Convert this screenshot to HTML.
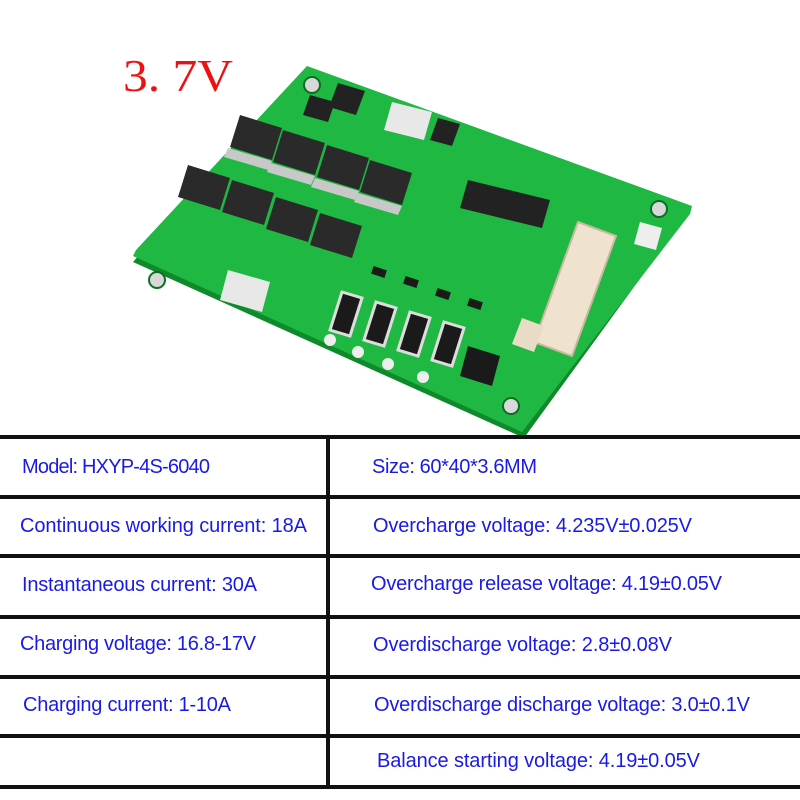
<!DOCTYPE html>
<html><head><meta charset="utf-8"><style>
html,body{margin:0;padding:0;background:#fff;}
svg{display:block}
</style></head><body>
<svg width="800" height="800" viewBox="0 0 800 800" xmlns="http://www.w3.org/2000/svg">
<rect width="800" height="800" fill="#fff"/>
<text x="123" y="91" font-family="Liberation Serif, serif" font-size="46" fill="#ee1111" textLength="110" lengthAdjust="spacingAndGlyphs">3. 7V</text>
<polygon points="307,68 690,210 524,438 133,262" fill="#0f8a2a"/>
<polygon points="307,66 692,206 690,214 522,432 133,256 136,250" fill="#1fb843"/>
<g fill="#d8d8d8" stroke="#0b6e22" stroke-width="2">
<circle cx="312" cy="85" r="8"/><circle cx="659" cy="209" r="8"/><circle cx="511" cy="406" r="8"/><circle cx="157" cy="280" r="8"/>
</g>
<polygon points="392,102 432,112 424,140 384,130" fill="#e8e8e8"/>
<polygon points="228,270 270,282 262,312 220,300" fill="#e8e8e8"/>
<polygon points="640,222 662,228 656,250 634,244" fill="#eee"/>
<g fill="#222">
<polygon points="338,83 365,91 356,115 329,107"/>
<polygon points="310,95 335,102 328,122 303,115"/>
<polygon points="438,118 460,124 452,146 430,140"/>
</g>
<g fill="#2a2a2a">
<polygon points="240,115 282,128 272,160 230,147"/>
<polygon points="283,130 325,143 315,175 273,162"/>
<polygon points="327,145 369,158 359,190 317,177"/>
<polygon points="370,160 412,173 402,205 360,192"/>
<polygon points="188,165 230,178 220,210 178,197"/>
<polygon points="232,180 274,193 264,225 222,212"/>
<polygon points="276,197 318,210 308,242 266,229"/>
<polygon points="320,213 362,226 352,258 310,245"/>
</g>
<g fill="#c8c8c8">
<polygon points="228,148 272,161 268,170 224,157"/>
<polygon points="271,163 315,176 311,185 267,172"/>
<polygon points="315,178 359,191 355,200 311,187"/>
<polygon points="358,193 402,206 398,215 354,202"/>
</g>
<polygon points="468,180 550,200 542,228 460,208" fill="#222"/>
<g fill="#1a1a1a" stroke="#ddd" stroke-width="3">
<polygon points="342,292 362,298 350,336 330,330"/>
<polygon points="376,302 396,308 384,346 364,340"/>
<polygon points="410,312 430,318 418,356 398,350"/>
<polygon points="444,322 464,328 452,366 432,360"/>
</g>
<g fill="#eee">
<circle cx="330" cy="340" r="6"/><circle cx="358" cy="352" r="6"/><circle cx="388" cy="364" r="6"/><circle cx="423" cy="377" r="6"/>
</g>
<polygon points="468,346 500,356 492,386 460,376" fill="#1a1a1a"/>
<g fill="#1a1a1a">
<rect x="372" y="268" width="14" height="8" transform="rotate(18 379 272)"/>
<rect x="404" y="278" width="14" height="8" transform="rotate(18 411 282)"/>
<rect x="436" y="290" width="14" height="8" transform="rotate(18 443 294)"/>
<rect x="468" y="300" width="14" height="8" transform="rotate(18 475 304)"/>
</g>
<polygon points="578,222 616,236 572,356 534,342" fill="#efe3cf" stroke="#c9b9a0" stroke-width="2"/>
<polygon points="522,318 544,326 534,352 512,344" fill="#e8dcc6"/>
<g fill="#111">
<rect x="0" y="435" width="800" height="4"/>
<rect x="0" y="495" width="800" height="4"/>
<rect x="0" y="554" width="800" height="4"/>
<rect x="0" y="615" width="800" height="4"/>
<rect x="0" y="675" width="800" height="4"/>
<rect x="0" y="734" width="800" height="4"/>
<rect x="0" y="785" width="800" height="4"/>
<rect x="326" y="437" width="4" height="350"/>
</g>
<g font-family="Liberation Sans Narrow, Liberation Sans, sans-serif" font-size="20" fill="#1a1ae6" lengthAdjust="spacingAndGlyphs">
<text x="22" y="473" textLength="188">Model: HXYP-4S-6040</text>
<text x="20" y="532" textLength="287">Continuous working current: 18A</text>
<text x="22" y="591" textLength="235">Instantaneous current: 30A</text>
<text x="20" y="650" textLength="236">Charging voltage: 16.8-17V</text>
<text x="23" y="711" textLength="208">Charging current: 1-10A</text>
<text x="372" y="473" textLength="165">Size: 60*40*3.6MM</text>
<text x="373" y="532" textLength="319">Overcharge voltage: 4.235V±0.025V</text>
<text x="371" y="590" textLength="351">Overcharge release voltage: 4.19±0.05V</text>
<text x="373" y="651" textLength="299">Overdischarge voltage: 2.8±0.08V</text>
<text x="374" y="711" textLength="376">Overdischarge discharge voltage: 3.0±0.1V</text>
<text x="377" y="767" textLength="323">Balance starting voltage: 4.19±0.05V</text>
</g>
</svg>
</body></html>
